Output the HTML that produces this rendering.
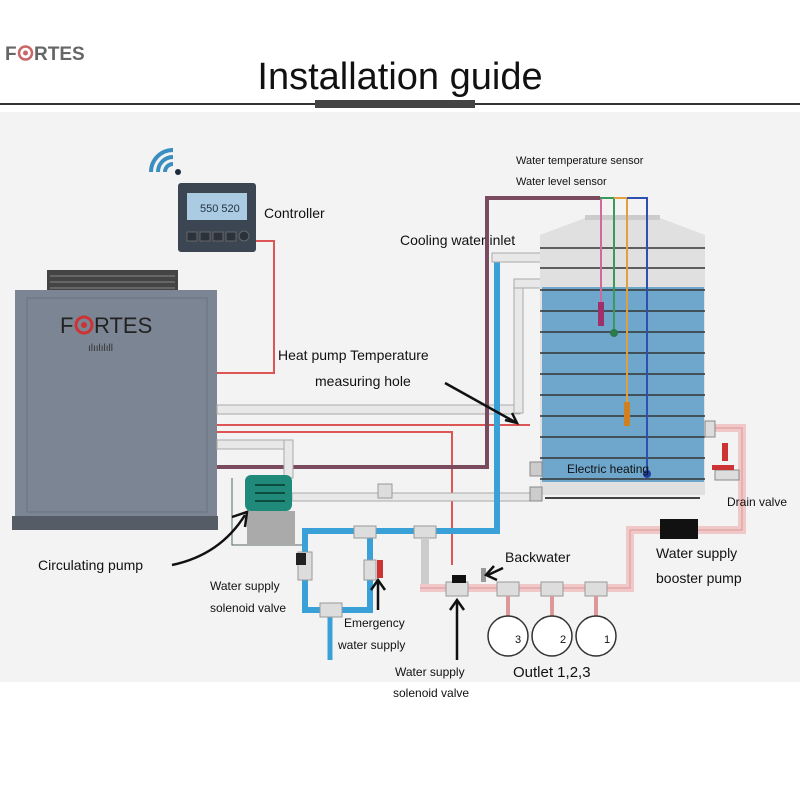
<!DOCTYPE html>
<html><head><meta charset="utf-8"><style>
html,body{margin:0;padding:0;background:#fff;}
svg{display:block;}
text{font-family:"Liberation Sans",sans-serif;fill:#111;}
</style></head><body>
<svg width="800" height="800" viewBox="0 0 800 800" xmlns="http://www.w3.org/2000/svg">
<rect width="800" height="800" fill="#fff"/>
<rect x="0" y="112" width="800" height="570" fill="#f3f3f3"/>
<!-- header -->
<text x="5" y="60" font-size="19" font-weight="bold" style="fill:#666">F</text>
<circle cx="25.5" cy="53" r="6.5" fill="none" stroke="#c66" stroke-width="2.5"/>
<circle cx="25.5" cy="53" r="2.5" fill="#c66"/>
<text x="34" y="60" font-size="19" font-weight="bold" style="fill:#666">RTES</text>
<text x="400" y="89" font-size="38" text-anchor="middle">Installation guide</text>
<line x1="0" y1="104" x2="800" y2="104" stroke="#333" stroke-width="2"/>
<rect x="315" y="100" width="160" height="8" fill="#444"/>

<!-- wifi -->
<g fill="none" stroke="#3a8fc0" stroke-width="4">
<path d="M165 172 a8 8 0 0 1 8 -8"/><path d="M158 172 a15 15 0 0 1 15 -15"/><path d="M151 172 a22 22 0 0 1 22 -22"/>
</g>
<circle cx="178" cy="172" r="3" fill="#1c2c3c"/>
<!-- controller -->
<rect x="178" y="183" width="78" height="69" rx="3" fill="#3c4653"/>
<rect x="187" y="193" width="60" height="27" fill="#aacbe2"/>
<text x="200" y="212" font-size="11" style="fill:#234">550 520</text>
<g fill="#2a323c" stroke="#666"><rect x="187" y="232" width="10" height="9"/><rect x="200" y="232" width="10" height="9"/><rect x="213" y="232" width="10" height="9"/><rect x="226" y="232" width="10" height="9"/><circle cx="244" cy="236" r="5"/></g>
<text x="264" y="218" font-size="14">Controller</text>
<polyline points="256,241 274,241 274,373 217,373" fill="none" stroke="#d55" stroke-width="2"/>

<!-- heat pump -->
<rect x="47" y="270" width="131" height="22" fill="#444" />
<g stroke="#888" stroke-width="1"><line x1="50" y1="276" x2="175" y2="276"/><line x1="50" y1="282" x2="175" y2="282"/><line x1="50" y1="288" x2="175" y2="288"/></g>
<rect x="15" y="290" width="202" height="228" fill="#7c8594"/>
<rect x="27" y="298" width="180" height="214" fill="none" stroke="#6a7382"/>
<rect x="12" y="516" width="206" height="14" fill="#555c66"/>
<text x="60" y="333" font-size="22" style="fill:#222">F</text>
<circle cx="84" cy="325" r="8" fill="none" stroke="#c33" stroke-width="3"/>
<circle cx="84" cy="325" r="3" fill="#c33"/>
<text x="94" y="333" font-size="22" style="fill:#222">RTES</text>
<text x="88" y="351" font-size="10" style="fill:#333">ılıılılıll</text>

<!-- pipes from pump -->
<rect x="217" y="405" width="303" height="9" fill="#e8e8e8" stroke="#aaa"/>
<rect x="514" y="285" width="9" height="128" fill="#e8e8e8" stroke="#aaa"/>
<rect x="514" y="279" width="36" height="9" fill="#e8e8e8" stroke="#aaa"/>
<line x1="217" y1="425" x2="530" y2="425" stroke="#d55" stroke-width="2"/>
<polyline points="217,432 452,432 452,565" fill="none" stroke="#d55" stroke-width="2"/>
<polyline points="217,467 487,467 487,198 600,198" fill="none" stroke="#7a4a5e" stroke-width="4"/>
<rect x="217" y="440" width="73" height="9" fill="#e8e8e8" stroke="#aaa"/>
<rect x="284" y="440" width="9" height="38" fill="#e8e8e8" stroke="#aaa"/>
<rect x="292" y="493" width="245" height="8" fill="#e8e8e8" stroke="#aaa"/>
<rect x="378" y="484" width="14" height="14" fill="#ddd" stroke="#999"/>
<polyline points="232,478 232,545 305,545" fill="none" stroke="#566" stroke-width="1"/>
<!-- blue -->
<polyline points="497,260 497,531 305,531 305,610 370,610 370,531" fill="none" stroke="#3aa0d8" stroke-width="6"/>
<rect x="492" y="253" width="56" height="9" fill="#e8e8e8" stroke="#aaa"/>
<line x1="330" y1="610" x2="330" y2="660" stroke="#3aa0d8" stroke-width="5"/>
<g fill="#ddd" stroke="#999"><rect x="354" y="526" width="22" height="12"/><rect x="414" y="526" width="22" height="12"/><rect x="320" y="603" width="22" height="14"/><rect x="298" y="552" width="14" height="28"/><rect x="364" y="560" width="12" height="20"/></g>
<rect x="296" y="553" width="10" height="12" fill="#222"/>
<rect x="377" y="560" width="6" height="18" fill="#c33"/>
<polyline points="425,538 425,588 440,588" fill="none" stroke="#ccc" stroke-width="8"/>
<!-- pump -->
<rect x="245" y="475" width="47" height="36" rx="6" fill="#1f8a7a"/>
<g stroke="#0d4a40" stroke-width="2"><line x1="255" y1="485" x2="285" y2="485"/><line x1="255" y1="493" x2="285" y2="493"/><line x1="255" y1="501" x2="285" y2="501"/></g>
<rect x="247" y="511" width="48" height="34" fill="#aaa"/>

<!-- tank -->
<path d="M540 235 L585 218 L660 218 L705 235 L705 495 L540 495 Z" fill="#e0e0e0"/>
<rect x="585" y="215" width="75" height="5" fill="#ccc"/>
<rect x="542" y="287" width="162" height="195" fill="#6ea6cc"/>
<g stroke="#333" stroke-width="1.5">
<line x1="540" y1="248" x2="705" y2="248"/><line x1="540" y1="268" x2="705" y2="268"/><line x1="540" y1="290" x2="705" y2="290"/><line x1="540" y1="311" x2="705" y2="311"/><line x1="540" y1="332" x2="705" y2="332"/><line x1="540" y1="353" x2="705" y2="353"/><line x1="540" y1="374" x2="705" y2="374"/><line x1="540" y1="395" x2="705" y2="395"/><line x1="540" y1="416" x2="705" y2="416"/><line x1="540" y1="437" x2="705" y2="437"/><line x1="540" y1="458" x2="705" y2="458"/><line x1="540" y1="479" x2="705" y2="479"/>
</g>
<line x1="545" y1="498" x2="700" y2="498" stroke="#444" stroke-width="2"/>
<line x1="601" y1="198" x2="601" y2="325" stroke="#d06a9a" stroke-width="2"/><rect x="598" y="302" width="6" height="24" fill="#a0306a"/>
<polyline points="600,198 614,198 614,333" fill="none" stroke="#3a9a5a" stroke-width="2"/><circle cx="614" cy="333" r="4" fill="#2a7a4a"/>
<polyline points="614,198 627,198 627,425" fill="none" stroke="#e0a040" stroke-width="2"/><rect x="624" y="402" width="6" height="24" fill="#d08020"/>
<polyline points="627,198 647,198 647,475" fill="none" stroke="#3050b0" stroke-width="2"/><circle cx="647" cy="474" r="4" fill="#2040a0"/>
<rect x="530" y="462" width="12" height="14" fill="#ccc" stroke="#888"/>
<rect x="530" y="487" width="12" height="14" fill="#ccc" stroke="#888"/>
<!-- right pink pipe -->
<polyline points="712,428 742,428 742,530 630,530 630,588 420,588" fill="none" stroke="#f0c8c8" stroke-width="8"/>
<polyline points="712,428 742,428 742,530 630,530 630,588 420,588" fill="none" stroke="#d99" stroke-width="1"/>
<rect x="705" y="421" width="10" height="16" fill="#ddd" stroke="#888"/>
<rect x="715" y="470" width="24" height="10" fill="#ddd" stroke="#888"/>
<rect x="712" y="465" width="22" height="5" fill="#c33"/>
<rect x="722" y="443" width="6" height="18" fill="#c33"/>
<rect x="660" y="519" width="38" height="20" fill="#111"/>
<g fill="#ddd" stroke="#999"><rect x="446" y="582" width="22" height="14"/><rect x="497" y="582" width="22" height="14"/><rect x="541" y="582" width="22" height="14"/><rect x="585" y="582" width="22" height="14"/></g>
<rect x="452" y="575" width="14" height="8" fill="#111"/>
<rect x="481" y="568" width="5" height="14" fill="#999"/>
<g stroke="#d99" stroke-width="4"><line x1="508" y1="596" x2="508" y2="616"/><line x1="552" y1="596" x2="552" y2="616"/><line x1="596" y1="596" x2="596" y2="616"/></g>
<g fill="#fff" stroke="#333" stroke-width="1.5"><circle cx="508" cy="636" r="20"/><circle cx="552" cy="636" r="20"/><circle cx="596" cy="636" r="20"/></g>
<text x="515" y="643" font-size="11">3</text><text x="560" y="643" font-size="11">2</text><text x="604" y="643" font-size="11">1</text>

<!-- arrows -->
<g stroke="#111" stroke-width="2.5" fill="none">
<path d="M445 383 L515 422"/><path d="M505 420 L517 423 L512 413"/>
<path d="M172 565 Q220 555 245 515"/><path d="M232 517 L247 512 L245 527"/>
<path d="M378 610 L378 580"/><path d="M371 590 L378 580 L385 590"/>
<path d="M457 660 L457 600"/><path d="M450 610 L457 600 L464 610"/>
<path d="M503 568 L488 575"/><path d="M494 566 L486 575 L497 580"/>
</g>

<!-- labels -->
<text x="516" y="164" font-size="11">Water temperature sensor</text>
<text x="516" y="185" font-size="11">Water level sensor</text>
<text x="400" y="245" font-size="14">Cooling water inlet</text>
<text x="278" y="360" font-size="14">Heat pump Temperature</text>
<text x="315" y="386" font-size="14">measuring hole</text>
<text x="567" y="473" font-size="12">Electric heating</text>
<text x="727" y="506" font-size="12">Drain valve</text>
<text x="656" y="558" font-size="14">Water supply</text>
<text x="656" y="583" font-size="14">booster pump</text>
<text x="505" y="562" font-size="14">Backwater</text>
<text x="38" y="570" font-size="14">Circulating pump</text>
<text x="210" y="590" font-size="12">Water supply</text>
<text x="210" y="612" font-size="12">solenoid valve</text>
<text x="344" y="627" font-size="12">Emergency</text>
<text x="338" y="649" font-size="12">water supply</text>
<text x="395" y="676" font-size="12">Water supply</text>
<text x="393" y="697" font-size="12">solenoid valve</text>
<text x="513" y="677" font-size="15">Outlet 1,2,3</text>
</svg>
</body></html>
